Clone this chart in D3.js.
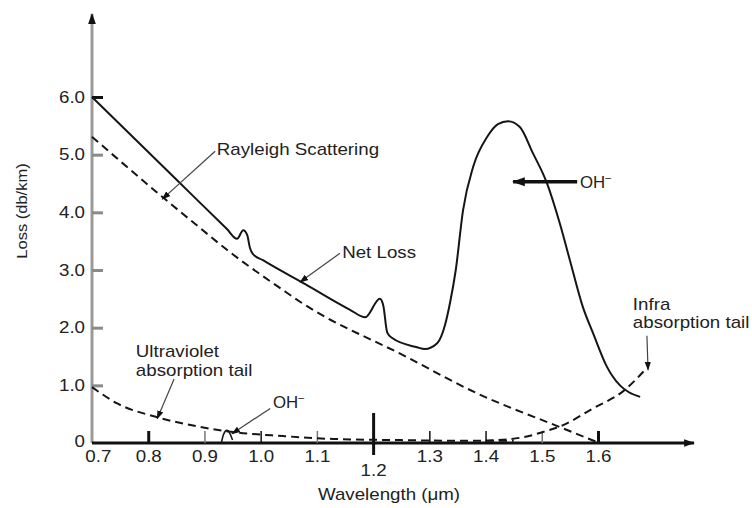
<!DOCTYPE html>
<html>
<head>
<meta charset="utf-8">
<script src="https://cdn.jsdelivr.net/npm/d3@7"></script>
<style>
  body { margin: 0; background: #fff; }
  svg { display: block; font-family: "Liberation Sans", Arial, sans-serif; }
  .lbl { fill: #222; font-size: 16px; }
</style>
</head>
<body>
<svg id="chart" width="752" height="508"></svg>
<script>
// wavelength (um) -> loss (dB/km)
const netLossX = [0.70, 0.85, 0.94, 0.958, 0.969, 0.976, 0.981, 0.986, 1.004, 1.08, 1.159, 1.186, 1.212, 1.218, 1.225, 1.234,
  1.278, 1.292, 1.314, 1.328, 1.337, 1.347, 1.360, 1.378, 1.403, 1.422, 1.440, 1.461, 1.484, 1.509, 1.532, 1.550,
  1.573, 1.591, 1.616, 1.625, 1.640, 1.655, 1.675];
const netLossY = [6.00, 4.57, 3.71, 3.54, 3.69, 3.61, 3.38, 3.28, 3.17, 2.75, 2.31, 2.18, 2.50, 2.39, 1.92, 1.82,
  1.66, 1.63, 1.73, 2.05, 2.44, 3.00, 4.04, 4.79, 5.31, 5.53, 5.58, 5.48, 5.03, 4.51, 3.81, 3.17,
  2.36, 1.91, 1.32, 1.17, 0.99, 0.88, 0.80];

const rayleighX = [0.70, 0.826, 0.892, 0.94, 1.04, 1.07, 1.26, 1.383, 1.531, 1.597];
const rayleighY = [5.31, 4.26, 3.73, 3.35, 2.65, 2.45, 1.49, 0.87, 0.28, 0.02];

const uvTailX = [0.70, 0.744, 0.815, 0.892, 0.951, 1.04, 1.129, 1.25, 1.35, 1.45];
const uvTailY = [0.97, 0.69, 0.45, 0.28, 0.19, 0.12, 0.07, 0.05, 0.04, 0.04];

const irTailX = [1.40, 1.467, 1.502, 1.538, 1.591, 1.645, 1.683];
const irTailY = [0.04, 0.10, 0.19, 0.31, 0.60, 0.90, 1.26];

// small OH- peak near 0.95 um
const ohSmallX = [0.930, 0.934, 0.940, 0.946, 0.950];
const ohSmallY = [0.00, 0.15, 0.22, 0.15, 0.05];

const xTicks = [0.7, 0.8, 0.9, 1.0, 1.1, 1.2, 1.3, 1.4, 1.5, 1.6];
const yTicks = [0, 1, 2, 3, 4, 5, 6];

// annotations: text anchor + arrow, in data units
const notes = [
  {lines: ['Rayleigh Scattering'], at: [0.922, 4.99], from: [0.919, 5.06], to: [0.825, 4.23]},
  {lines: ['Net Loss'], at: [1.145, 3.21], from: [1.141, 3.29], to: [1.070, 2.79]},
  {lines: ['Infra', 'absorption tail'], at: [1.662, 2.31], from: [1.687, 1.86], to: [1.689, 1.27]},
  {lines: ['Ultraviolet', 'absorption tail'], at: [0.778, 1.49], from: [0.846, 1.11], to: [0.816, 0.42]}
];
const ohNotes = [
  {at: [1.568, 4.42], from: [1.563, 4.53], to: [1.449, 4.53], big: true},
  {at: [1.022, 0.61], from: [1.017, 0.60], to: [0.949, 0.16], big: false}
];

const svg = d3.select('#chart');
const x = d3.scaleLinear().domain([0.7, 1.6]).range([92, 598]);
const y = d3.scaleLinear().domain([0, 6]).range([443, 97]);
const stretch = 'scale(1.17,1)';

// arrow heads
const defs = svg.append('defs');
function marker(id, size, color) {
  defs.append('marker')
      .attr('id', id)
      .attr('viewBox', '0 0 10 10')
      .attr('refX', 9).attr('refY', 5)
      .attr('markerWidth', size).attr('markerHeight', size)
      .attr('markerUnits', 'userSpaceOnUse')
      .attr('orient', 'auto')
    .append('path')
      .attr('d', 'M0,1.5L10,5L0,8.5Z')
      .attr('fill', color);
}
marker('head', 9, '#111');
marker('headBig', 13, '#111');
marker('axisHead', 11, '#111');

// axis lines
svg.append('line')
    .attr('x1', x(0.7)).attr('y1', y(0))
    .attr('x2', x(0.7)).attr('y2', 14)
    .attr('stroke', '#9a9a9a').attr('stroke-width', 3)
    .attr('marker-end', 'url(#axisHead)');
svg.append('line')
    .attr('x1', x(0.7)).attr('y1', y(0))
    .attr('x2', 694).attr('y2', y(0))
    .attr('stroke', '#111').attr('stroke-width', 3)
    .attr('marker-end', 'url(#axisHead)');

// y axis ticks
const yAxis = d3.axisLeft(y).tickValues(yTicks).tickSize(-11).tickSizeOuter(0).tickPadding(6)
    .tickFormat(d => d === 0 ? '0' : d.toFixed(1));
const yG = svg.append('g').attr('transform', `translate(${x(0.7)},0)`).call(yAxis);
yG.select('.domain').remove();
yG.attr('font-size', null).attr('font-family', null);
yG.selectAll('.tick line')
    .attr('stroke', d => d === 6 ? '#111' : '#8a8a8a')
    .attr('stroke-width', 3)
    .style('display', d => d === 0 ? 'none' : null);
yG.selectAll('.tick text')
    .attr('class', 'lbl')
    .attr('transform', stretch);
// "0" sits a touch higher so it clears the 0.7 label
yG.selectAll('.tick text').filter(d => d === 0).attr('y', -2);

// x axis ticks
const thick = [0.8, 1.2, 1.6];
const grey = [0.9, 1.1, 1.5];
const xAxis = d3.axisBottom(x).tickValues(xTicks).tickSize(-12).tickSizeOuter(0).tickPadding(8)
    .tickFormat(d3.format('.1f'));
const xG = svg.append('g').attr('transform', `translate(0,${y(0)})`).call(xAxis);
xG.select('.domain').remove();
xG.attr('font-size', null).attr('font-family', null);
xG.selectAll('.tick line')
    .attr('stroke', d => grey.includes(d) ? '#777' : '#111')
    .attr('stroke-width', d => thick.includes(d) ? 3 : 1.5)
    .style('display', d => d === 0.7 ? 'none' : null);
xG.selectAll('.tick line').filter(d => d === 1.2)
    .attr('y1', 12).attr('y2', -30);
xG.selectAll('.tick text')
    .attr('class', 'lbl')
    .attr('transform', stretch);
xG.selectAll('.tick text').filter(d => d === 1.2).attr('y', 22);
xG.selectAll('.tick text').filter(d => d === 0.7).attr('x', 5);

// axis titles
svg.append('text')
    .attr('class', 'lbl')
    .attr('text-anchor', 'middle')
    .attr('transform', `translate(389,500) ${stretch}`)
    .text('Wavelength (\u03bcm)');
svg.append('text')
    .attr('class', 'lbl')
    .style('font-size', '15px')
    .attr('text-anchor', 'middle')
    .attr('transform', 'translate(27,211) rotate(-90) scale(1.1,1)')
    .text('Loss (db/km)');

// curves
function pts(xs, ys) { return xs.map((v, i) => [v, ys[i]]); }
const line = d3.line()
    .x(d => x(d[0]))
    .y(d => y(d[1]))
    .curve(d3.curveMonotoneX);

const series = [
  {data: pts(rayleighX, rayleighY), dash: '8,5'},
  {data: pts(uvTailX, uvTailY), dash: '8,5'},
  {data: pts(irTailX, irTailY), dash: '8,5'},
  {data: pts(ohSmallX, ohSmallY), dash: null, w: 1.5},
  {data: pts(netLossX, netLossY), dash: null}
];
svg.selectAll('.curve')
    .data(series)
    .join('path')
    .attr('class', 'curve')
    .attr('d', d => line(d.data))
    .attr('fill', 'none')
    .attr('stroke', '#151515')
    .attr('stroke-width', d => d.w || 2)
    .attr('stroke-dasharray', d => d.dash);

// annotations
notes.forEach(n => {
  svg.append('line')
      .attr('x1', x(n.from[0])).attr('y1', y(n.from[1]))
      .attr('x2', x(n.to[0])).attr('y2', y(n.to[1]))
      .attr('stroke', '#444').attr('stroke-width', 1.2)
      .attr('marker-end', 'url(#head)');
  const t = svg.append('text')
      .attr('class', 'lbl')
      .attr('transform', `translate(${x(n.at[0])},${y(n.at[1])}) ${stretch}`);
  t.selectAll('tspan')
      .data(n.lines)
      .join('tspan')
      .attr('x', 0)
      .attr('dy', (d, i) => i === 0 ? 0 : 18.5)
      .text(d => d);
});

ohNotes.forEach(n => {
  svg.append('line')
      .attr('x1', x(n.from[0])).attr('y1', y(n.from[1]))
      .attr('x2', x(n.to[0])).attr('y2', y(n.to[1]))
      .attr('stroke', n.big ? '#111' : '#444')
      .attr('stroke-width', n.big ? 3.5 : 1.2)
      .attr('marker-end', n.big ? 'url(#headBig)' : 'url(#head)');
  const t = svg.append('text')
      .attr('class', 'lbl')
      .attr('transform', `translate(${x(n.at[0])},${y(n.at[1])}) scale(1.05,1)`);
  t.append('tspan').text('OH');
  t.append('tspan').attr('dy', -7).style('font-size', '10px').text('\u2013');
});
</script>
</body>
</html>
